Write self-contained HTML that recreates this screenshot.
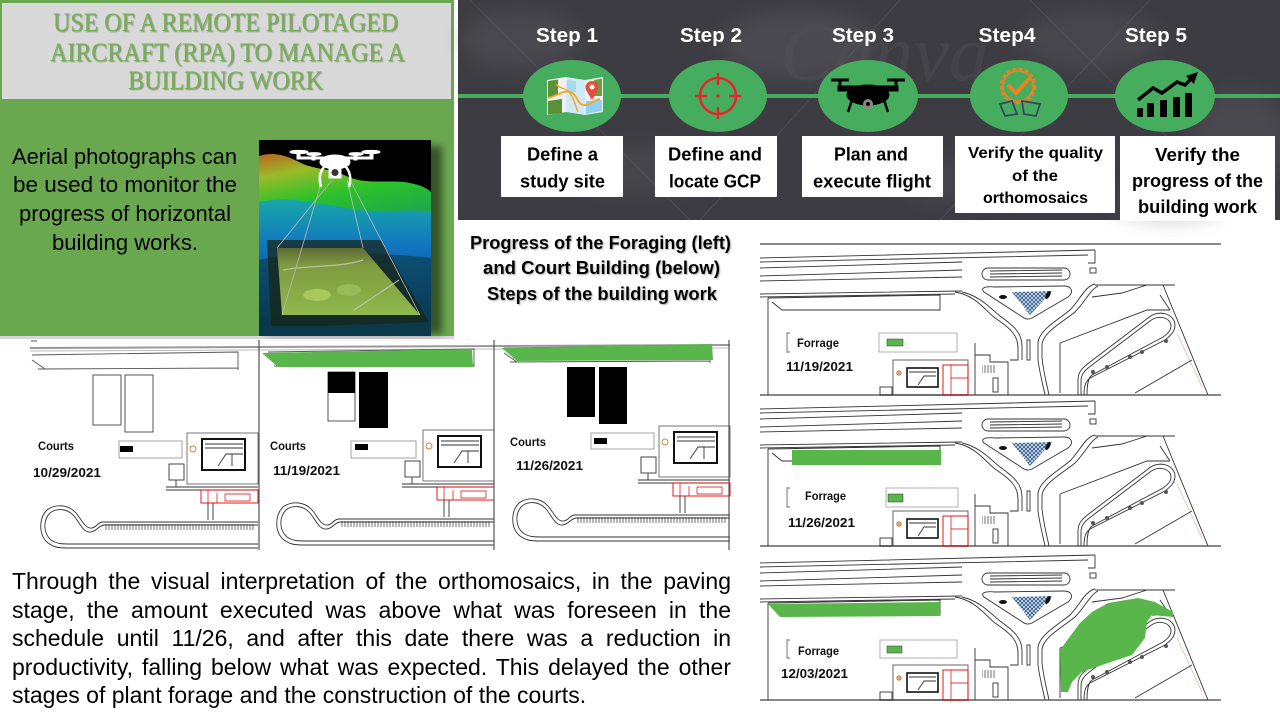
<!DOCTYPE html>
<html><head><meta charset="utf-8">
<style>
*{margin:0;padding:0;box-sizing:border-box}
html,body{width:1280px;height:720px;overflow:hidden;background:#fff}
body{position:relative;font-family:"Liberation Sans",Arial,sans-serif}
svg{position:absolute;left:0;top:0}
.para{position:absolute;left:12px;top:567px;width:719px;font-size:23px;line-height:28.5px;color:#000}
.para div{text-align:justify;text-align-last:justify;white-space:nowrap}
.para div.last{text-align:left;text-align-last:left}
</style></head><body>
<svg width="1280" height="720" viewBox="0 0 1280 720" xmlns="http://www.w3.org/2000/svg">
<defs>
 <pattern id="tk" width="3" height="7" patternUnits="userSpaceOnUse"><line x1="1" y1="0" x2="1" y2="7" stroke="#333" stroke-width="0.7"/></pattern>
 <pattern id="xh" width="4" height="4" patternUnits="userSpaceOnUse"><rect width="4" height="4" fill="#dde6f0"/><path d="M0,0 L4,4 M4,0 L0,4" stroke="#2f5a8c" stroke-width="0.9"/></pattern>
 <linearGradient id="terr1" x1="0" y1="0" x2="0.35" y2="1">
  <stop offset="0" stop-color="#b8641e"/><stop offset="0.22" stop-color="#9cba2a"/><stop offset="0.5" stop-color="#2cc22a"/><stop offset="1" stop-color="#169a5a"/>
 </linearGradient>
 <linearGradient id="terr2" x1="0" y1="0" x2="0" y2="1">
  <stop offset="0" stop-color="#18a8a8"/><stop offset="0.35" stop-color="#1274c0"/><stop offset="0.7" stop-color="#0a4c88"/><stop offset="1" stop-color="#07303c"/>
 </linearGradient>
 <linearGradient id="golf" x1="0" y1="0" x2="0" y2="1">
  <stop offset="0" stop-color="#5e6a34"/><stop offset="0.25" stop-color="#7f9a40"/><stop offset="1" stop-color="#8fb84c"/>
 </linearGradient>
 <filter id="blur4"><feGaussianBlur stdDeviation="4"/></filter>
 <filter id="blur10"><feGaussianBlur stdDeviation="10"/></filter>
 <filter id="tsh"><feDropShadow dx="1" dy="1" stdDeviation="0.6" flood-color="#444" flood-opacity="0.55"/></filter>
 <filter id="tsh2"><feDropShadow dx="1" dy="1" stdDeviation="0.8" flood-color="#777" flood-opacity="0.6"/></filter>

 <g id="courtbase" fill="none" stroke="#333" stroke-width="0.9">
  <path d="M32,355 L238,352 L238,370 M38,369 L238,368 M32,360 L45,369" stroke="#555"/>
  <rect x="187" y="433" width="71" height="51" stroke="#666"/>
  <rect x="202" y="439" width="43" height="31" stroke="#111" stroke-width="2"/>
  <path d="M205,444 L243,444 M205,448 L243,448 M218,466 L226,454 L243,454 M232,454 L232,466"/>
  <circle cx="193" cy="449" r="3" stroke="#d08040"/>
  <rect x="169" y="464" width="15" height="16"/>
  <path d="M176,480 L176,487 M166,487 L258,487 M166,490 L258,490"/>
  <rect x="201" y="490" width="57" height="13" stroke="#e00000"/>
  <path d="M208,490 L208,503 M217,493 L217,503 M225,494 L250,494 L250,501 L225,501 Z" stroke="#e00000" stroke-width="0.7"/>
  <path d="M208,503 L208,520 M213,503 L213,520"/>
  <path d="M258,522 L103,522 C98,522 97,527 92,528 C85,529 82,520 76,513 C68,504 55,504 47,510 C39,518 38,535 48,543 C55,548 60,548 70,548 L258,548"/>
  <path d="M258,525 L104,525 C98,526 97,531 91,532 C83,533 80,523 74,516 C67,508 56,508 50,513 C43,520 43,533 51,540 C57,544 62,544 72,544 L258,544"/>
  <rect x="105" y="524" width="150" height="6" fill="url(#tk)" stroke="none"/>
 </g>

 <g id="mapbase" fill="none" stroke="#333" stroke-width="0.9">
  <line x1="760" y1="395" x2="1221" y2="395" stroke="#888" stroke-width="2"/>
  <path d="M760,258 L1095,250 M760,262 L1088,255 M760,268 L962,262 M760,276 L962,270 M760,281 L962,277 M760,294 L962,291 M760,297 L955,294"/>
  <path d="M1095,250 L1095,263 L1088,263"/>
  <rect x="1090" y="268" width="6" height="5"/>
  <path d="M768,298 L940,295 L940,310 L782,310 L772,302 M768,298 L768,395"/>
  <path d="M955,292 C975,295 985,310 995,318 C1010,328 1018,335 1018,348 L1018,360 L1010,360"/>
  <path d="M962,292 C980,296 990,308 1000,316 C1014,326 1022,333 1022,346 L1022,360"/>
  <path d="M1095,284 C1085,286 1080,300 1070,310 C1055,322 1040,330 1038,342 L1038,360 C1040,375 1043,385 1045,395"/>
  <path d="M1098,286 C1090,290 1085,302 1075,312 C1060,324 1044,332 1042,344 L1042,358 C1044,375 1047,385 1049,395"/>
  <rect x="982" y="268" width="88" height="12" rx="6"/>
  <path d="M990,271 L1062,270 M990,274 L1062,273 M990,277 L1062,276"/>
  <path d="M984,292 C980,288 985,286 995,287 L1064,286 C1072,286 1074,292 1068,297 L1032,318 C1028,320 1025,319 1021,316 Z"/>
  <polygon points="1012,292 1052,291 1030,315" fill="url(#xh)" stroke="none"/>
  <ellipse cx="1003" cy="297" rx="4" ry="2" fill="#111" stroke="none"/>
  <ellipse cx="1048" cy="295" rx="2" ry="4.5" fill="#111" stroke="none" transform="rotate(30 1048 295)"/>
  <rect x="1027" y="340" width="3" height="20"/>
  <path d="M1095,285 L1175,285 M1163,285 L1208,395 M1060,343 L1060,393 M1060,343 L1147,310 L1170,310 M1092,297 L1122,293 L1147,285 M1170,310 L1160,295"/>
  <path d="M1078,395 L1078,380 C1078,372 1082,368 1090,362 L1148,318 C1160,308 1175,315 1175,325 C1175,332 1170,336 1165,340 L1090,378 C1086,381 1084,385 1084,395"/>
  <path d="M1081,395 L1081,381 C1081,374 1085,370 1092,365 L1150,321 C1159,314 1171,318 1171,326 C1171,331 1167,334 1163,337 L1092,375 C1088,378 1087,385 1087,395"/>
  <g fill="#555" stroke="none"><circle cx="1093" cy="372" r="2"/><circle cx="1107" cy="367" r="2"/><circle cx="1130" cy="357" r="2"/><circle cx="1142" cy="352" r="2"/><circle cx="1166" cy="341" r="2"/></g>
  <path d="M1177,333 L1202,387" stroke="#f0a0a0" stroke-width="0.6"/>
  <path d="M1135,393 L1192,360"/>
  <rect x="893" y="360" width="75" height="35" stroke="#555"/>
  <rect x="907" y="368" width="31" height="19" stroke="#111" stroke-width="1.6"/>
  <path d="M909,372 L936,372 M918,385 L924,376 L936,376"/>
  <rect x="943" y="365" width="25" height="30" stroke="#e00000"/>
  <path d="M951,365 L951,395 M951,378 L968,378" stroke="#e00000" stroke-width="0.7"/>
  <rect x="880" y="387" width="12" height="8"/>
  <circle cx="899" cy="373" r="2.2" stroke="#c87838" fill="#e0b080"/>
  <path d="M975,343 L975,395 M975,355 L990,355 L990,362 L1008,362 L1008,395"/>
  <rect x="982" y="365" width="13" height="8" fill="url(#tk)" stroke="none"/>
  <rect x="993" y="378" width="5" height="14"/>
 </g>
</defs>

<!-- LEFT GREEN PANEL -->
<rect x="0" y="0" width="454" height="336" fill="#6aa84f"/>
<rect x="0" y="336" width="454" height="3" fill="#d8d8d8"/>
<rect x="2" y="3" width="449" height="96" fill="#d9d9d9"/>
<g font-family="Liberation Serif, serif" font-size="26" fill="#76b152" text-anchor="middle" filter="url(#tsh)">
 <text x="225.5" y="31" textLength="345" lengthAdjust="spacingAndGlyphs">USE OF A REMOTE PILOTAGED</text>
 <text x="227.5" y="61" textLength="355" lengthAdjust="spacingAndGlyphs">AIRCRAFT (RPA) TO MANAGE A</text>
 <text x="225.5" y="89" textLength="195" lengthAdjust="spacingAndGlyphs">BUILDING WORK</text>
</g>
<g font-family="Liberation Sans, Arial, sans-serif" font-size="22" fill="#000" text-anchor="middle">
 <text x="124.5" y="164" textLength="225" lengthAdjust="spacingAndGlyphs">Aerial photographs can</text>
 <text x="125" y="192" textLength="224" lengthAdjust="spacingAndGlyphs">be used to monitor the</text>
 <text x="125" y="221" textLength="212" lengthAdjust="spacingAndGlyphs">progress of horizontal</text>
 <text x="125" y="250" textLength="146" lengthAdjust="spacingAndGlyphs">building works.</text>
</g>

<!-- photo -->
<rect x="266" y="146" width="176" height="188" fill="#000" opacity="0.5" filter="url(#blur4)"/>
<rect x="454" y="0" width="4" height="340" fill="#fff"/>
<g transform="translate(259,140)">
 <rect width="172" height="196" fill="#000"/>
 <path d="M0,16 C12,12 25,14 40,22 C55,30 70,28 85,35 C105,45 125,40 145,42 C160,44 168,48 172,52 L172,110 L0,110 Z" fill="url(#terr1)"/>
 <path d="M0,62 C30,55 60,64 100,70 C130,74 150,68 172,72 L172,196 L0,196 Z" fill="url(#terr2)"/>
 <path d="M0,120 C40,110 120,112 172,118 L172,196 L0,196 Z" fill="#0c3a48" opacity="0.6"/>
 <polygon points="8,100 122,100 170,182 12,188" fill="#1a2412" opacity="0.7"/>
 <polygon points="18,108 104,108 161,175 23,175" fill="url(#golf)"/>
 <path d="M24,130 C50,125 80,128 104,120 M95,170 C110,160 125,150 140,140" stroke="#c8c8b8" stroke-width="1.2" fill="none" opacity="0.8"/>
 <ellipse cx="58" cy="155" rx="14" ry="6" fill="#a6c85c"/>
 <ellipse cx="90" cy="150" rx="12" ry="6" fill="#9cc058" opacity="0.8"/>
 <g stroke="#b8b8b8" stroke-width="0.8" fill="none">
  <line x1="63" y1="40" x2="23" y2="175"/><line x1="73" y1="40" x2="18" y2="108"/>
  <line x1="88" y1="40" x2="104" y2="108"/><line x1="91" y1="40" x2="161" y2="175"/>
 </g>
 <rect x="0" y="186" width="172" height="10" fill="#0a3a4a"/>
 <g fill="#fff" stroke="#fff">
  <line x1="38" y1="18" x2="114" y2="18" stroke-width="3"/>
  <ellipse cx="40" cy="12" rx="9" ry="1.6"/><ellipse cx="112" cy="12" rx="9" ry="1.6"/>
  <ellipse cx="55" cy="14" rx="7" ry="1.4"/><ellipse cx="97" cy="14" rx="7" ry="1.4"/>
  <rect x="38" y="12" width="3" height="7"/><rect x="111" y="12" width="3" height="7"/>
  <rect x="53" y="14" width="3" height="6"/><rect x="95" y="14" width="3" height="6"/>
  <ellipse cx="76" cy="22" rx="15" ry="7"/>
  <path d="M66,26 C60,32 60,40 62,47 M86,26 C92,32 92,40 90,47" fill="none" stroke-width="2.5"/>
  <rect x="70" y="27" width="12" height="11"/>
 </g>
 <circle cx="76" cy="32.5" r="3.5" fill="#333"/>
</g>

<!-- BANNER -->
<rect x="458" y="0" width="822" height="220" fill="#3d3c43"/>
<g filter="url(#blur10)" opacity="0.3">
 <ellipse cx="520" cy="40" rx="60" ry="30" fill="#66656b"/>
 <ellipse cx="640" cy="170" rx="70" ry="25" fill="#5d5c62"/>
 <ellipse cx="800" cy="45" rx="80" ry="35" fill="#6a696f"/>
 <ellipse cx="960" cy="180" rx="60" ry="25" fill="#5a595f"/>
 <ellipse cx="1090" cy="40" rx="70" ry="30" fill="#5f5e64"/>
 <ellipse cx="1240" cy="140" rx="50" ry="50" fill="#66656b"/>
 <ellipse cx="1170" cy="200" rx="60" ry="20" fill="#55545a"/>
</g>
<g stroke="#8a8990" stroke-width="0.6" opacity="0.3">
 <line x1="470" y1="0" x2="690" y2="220"/><line x1="700" y1="220" x2="900" y2="0"/>
 <line x1="940" y1="220" x2="1150" y2="0"/><line x1="1030" y1="0" x2="1250" y2="220"/>
</g>
<text x="780" y="80" font-family="Liberation Serif, serif" font-style="italic" font-size="80" fill="#55545b" opacity="0.35">Canva</text>
<rect x="458" y="94" width="822" height="4" fill="#45ac5c"/>
<g fill="#46ad5f">
 <ellipse cx="572" cy="96" rx="49" ry="36"/>
 <ellipse cx="718" cy="96" rx="49" ry="36"/>
 <ellipse cx="868" cy="96" rx="50" ry="36"/>
 <ellipse cx="1019" cy="96" rx="49" ry="36"/>
 <ellipse cx="1165" cy="96" rx="50" ry="36"/>
</g>
<!-- icon 1 map -->
<g>
 <polygon points="547,80 566,77 566,112 547,115" fill="#eef2ee"/>
 <polygon points="566,77 585,80 585,115 566,112" fill="#cfe9f6"/>
 <polygon points="585,80 603,77 603,112 585,115" fill="#eef2ee"/>
 <polygon points="548,81 558,79.5 558,95 548,97" fill="#5b8f3b"/>
 <polygon points="548,101 562,99 562,113 548,114.5" fill="#5b8f3b"/>
 <polygon points="594,80 602,78.5 602,96 594,96" fill="#6a9f3f"/>
 <polygon points="586,101 602,100 602,111 586,114" fill="#8fd0f0"/>
 <polygon points="567,80 576,81 576,92 567,92" fill="#a6d8f0"/>
 <path d="M548,98 C558,96 562,90 570,92 C578,94 576,104 584,105 C590,106 592,100 600,99" stroke="#f5a623" stroke-width="1.8" fill="none"/>
 <path d="M556,84 C560,90 566,86 572,96 L578,112" stroke="#f5a623" stroke-width="1.4" fill="none"/>
 <path d="M592,100 L586,90 A6.5,6.5 0 1 1 598,90 Z" fill="#e84c3d"/>
 <circle cx="592" cy="87" r="2.5" fill="#fff"/>
</g>
<!-- icon 2 target -->
<g stroke="#e3262e" stroke-width="2.5" fill="none">
 <circle cx="718" cy="96" r="18"/>
 <path d="M718,73 L718,85 M718,107 L718,119 M695,96 L707,96 M729,96 L741,96"/>
</g>
<circle cx="718" cy="96" r="1.8" fill="#e3262e"/>
<!-- icon 3 drone -->
<g fill="#000" stroke="#000">
 <path d="M831,80 L849,80 M887,80 L905,80" stroke-width="3"/>
 <path d="M840,80 L840,90 M896,80 L896,90" stroke-width="3"/>
 <rect x="838" y="86" width="60" height="5"/>
 <ellipse cx="868" cy="95" rx="21" ry="10"/>
 <path d="M852,100 L848,112 M884,100 L888,112" stroke-width="2.5"/>
</g>
<circle cx="868" cy="104" r="5" fill="#888"/><circle cx="868" cy="104" r="2" fill="#000"/>
<!-- icon 4 badge -->
<g fill="none">
 <circle cx="1018" cy="86" r="17" stroke="#f07f22" stroke-width="2.5" stroke-dasharray="4 2.2"/>
 <circle cx="1018" cy="86" r="15" stroke="#f07f22" stroke-width="1.5"/>
 <path d="M1009,86 L1016,93 L1029,79" stroke="#f07f22" stroke-width="4" stroke-linecap="round" stroke-linejoin="round"/>
 <path d="M1000,104 L1012,101 L1017,114 L1005,116 Z M1022,101 L1040,104 L1036,116 L1024,114 Z" stroke="#34495e" stroke-width="1.8"/>
</g>
<!-- icon 5 chart -->
<g fill="#000">
 <rect x="1137" y="108" width="6" height="9"/>
 <rect x="1147" y="103" width="7" height="14"/>
 <rect x="1160" y="100" width="7" height="17"/>
 <rect x="1173" y="97" width="7" height="20"/>
 <rect x="1185" y="93" width="7" height="24"/>
 <path d="M1138,100 L1153,88 L1162,93 L1177,82 L1185,85 L1192,78" stroke="#000" stroke-width="3.5" fill="none"/>
 <polygon points="1186,76 1198,72 1194,84"/>
</g>
<!-- step titles -->
<g font-family="Liberation Sans, Arial, sans-serif" font-weight="bold" font-size="20" fill="#fff" text-anchor="middle">
 <text x="567" y="42" textLength="62" lengthAdjust="spacingAndGlyphs">Step 1</text>
 <text x="711" y="42" textLength="62" lengthAdjust="spacingAndGlyphs">Step 2</text>
 <text x="863" y="42" textLength="62" lengthAdjust="spacingAndGlyphs">Step 3</text>
 <text x="1007" y="42" textLength="57" lengthAdjust="spacingAndGlyphs">Step4</text>
 <text x="1156" y="42" textLength="62" lengthAdjust="spacingAndGlyphs">Step 5</text>
</g>
<!-- white boxes -->
<g fill="#fff">
 <rect x="501" y="136" width="122" height="61"/>
 <rect x="655" y="136" width="122" height="61"/>
 <rect x="802" y="136" width="141" height="61"/>
 <rect x="955" y="136" width="160" height="77"/>
 <rect x="1120" y="136" width="155" height="85"/>
</g>
<g font-family="Liberation Sans, Arial, sans-serif" font-weight="bold" font-size="18" fill="#000" text-anchor="middle">
 <text x="562.5" y="160.5" textLength="71" lengthAdjust="spacingAndGlyphs">Define a</text>
 <text x="562.5" y="187.5" textLength="85" lengthAdjust="spacingAndGlyphs">study site</text>
 <text x="715" y="160.5" textLength="94" lengthAdjust="spacingAndGlyphs">Define and</text>
 <text x="715" y="187.5" textLength="92" lengthAdjust="spacingAndGlyphs">locate GCP</text>
 <text x="871" y="160.5" textLength="74" lengthAdjust="spacingAndGlyphs">Plan and</text>
 <text x="872" y="187.5" textLength="118" lengthAdjust="spacingAndGlyphs">execute flight</text>
 <text x="1035.5" y="158" font-size="16" textLength="135" lengthAdjust="spacingAndGlyphs">Verify the quality</text>
 <text x="1035" y="181" font-size="16" textLength="46" lengthAdjust="spacingAndGlyphs">of the</text>
 <text x="1035.5" y="203" font-size="16" textLength="105" lengthAdjust="spacingAndGlyphs">orthomosaics</text>
 <text x="1197.5" y="161" textLength="85" lengthAdjust="spacingAndGlyphs">Verify the</text>
 <text x="1197.5" y="187" textLength="131" lengthAdjust="spacingAndGlyphs">progress of the</text>
 <text x="1197.5" y="213" textLength="119" lengthAdjust="spacingAndGlyphs">building work</text>
</g>

<!-- center caption -->
<g font-family="Liberation Sans, Arial, sans-serif" font-weight="bold" font-size="18" fill="#000" text-anchor="middle" filter="url(#tsh2)">
 <text x="600.5" y="249" textLength="261" lengthAdjust="spacingAndGlyphs">Progress of the Foraging (left)</text>
 <text x="601.5" y="274" textLength="237" lengthAdjust="spacingAndGlyphs">and Court Building (below)</text>
 <text x="602" y="300" textLength="230" lengthAdjust="spacingAndGlyphs">Steps of the building work</text>
</g>

<!-- COURTS PANELS -->
<line x1="30" y1="348" x2="730" y2="345" stroke="#999" stroke-width="2"/>
<line x1="30" y1="351" x2="730" y2="348" stroke="#bbb" stroke-width="1"/>
<line x1="31" y1="341" x2="37" y2="341" stroke="#555"/>
<use href="#courtbase"/>
<use href="#courtbase" transform="translate(236,-3)"/>
<use href="#courtbase" transform="translate(472,-7)"/>
<g fill="none" stroke="#444" stroke-width="0.9">
 <rect x="93" y="375" width="28" height="50"/>
 <rect x="125" y="375" width="28" height="57"/>
 <rect x="119" y="441" width="63" height="17" stroke="#999"/>
 <rect x="328" y="372" width="27" height="49"/>
 <rect x="351" y="441" width="65" height="17" stroke="#999"/>
 <rect x="591" y="433" width="63" height="16" stroke="#999"/>
</g>
<g fill="#000">
 <rect x="120" y="446" width="13" height="6"/>
 <rect x="328" y="372" width="27" height="21"/>
 <rect x="359" y="372" width="29" height="56"/>
 <rect x="355" y="444" width="13" height="6"/>
 <rect x="567" y="367" width="28" height="50"/>
 <rect x="599" y="367" width="28" height="57"/>
 <rect x="594" y="438" width="13" height="6"/>
</g>
<polygon points="262,353 472,349 473,367 278,367" fill="#58b64a"/>
<polygon points="502,348 712,344 713,360 517,361" fill="#58b64a"/>
<g stroke="#555" stroke-width="1.2">
 <line x1="259" y1="340" x2="259" y2="550"/>
 <line x1="494" y1="340" x2="494" y2="550"/>
 <line x1="729" y1="340" x2="729" y2="550"/>
</g>
<g font-family="Liberation Sans, Arial, sans-serif" font-weight="bold" fill="#111">
 <text x="38" y="450" font-size="11.5" textLength="36" lengthAdjust="spacingAndGlyphs">Courts</text>
 <text x="33" y="477" font-size="13" textLength="68" lengthAdjust="spacingAndGlyphs">10/29/2021</text>
 <text x="270" y="450" font-size="11.5" textLength="36" lengthAdjust="spacingAndGlyphs">Courts</text>
 <text x="273" y="475" font-size="13" textLength="67" lengthAdjust="spacingAndGlyphs">11/19/2021</text>
 <text x="510" y="446" font-size="11.5" textLength="36" lengthAdjust="spacingAndGlyphs">Courts</text>
 <text x="516" y="470" font-size="13" textLength="67" lengthAdjust="spacingAndGlyphs">11/26/2021</text>
</g>

<!-- FORAGE MAPS -->
<line x1="760" y1="244" x2="1221" y2="244" stroke="#888" stroke-width="2"/>
<use href="#mapbase"/>
<use href="#mapbase" transform="translate(0,151)"/>
<use href="#mapbase" transform="translate(0,305)"/>
<rect x="792" y="450" width="149" height="15" fill="#58b64a"/>
<polygon points="768,604 940,602 940,616 780,617" fill="#58b64a"/>
<path d="M1060,650 L1080,623 L1092,612 L1108,603 L1138,598 L1155,602 L1173,612 L1173,617 L1152,615 L1147,622 L1145,638 L1132,655 L1102,665 L1082,672 L1072,682 L1068,692 L1061,692 Z" fill="#58b64a"/>
<g fill="none" stroke="#666" stroke-width="0.9">
 <path d="M790,333 L787,333 L787,352 L790,352"/><rect x="879" y="333" width="78" height="19" stroke="#aaa"/>
 <path d="M790,488 L787,488 L787,507 L790,507"/><rect x="886" y="488" width="72" height="19" stroke="#aaa"/>
 <path d="M790,640 L787,640 L787,658 L790,658"/><rect x="880" y="640" width="77" height="18" stroke="#aaa"/>
</g>
<g fill="#58b64a" stroke="#333" stroke-width="0.5">
 <rect x="887" y="339" width="16" height="7"/>
 <rect x="888" y="494" width="15" height="8"/>
 <rect x="887" y="646" width="15" height="7"/>
</g>
<g font-family="Liberation Sans, Arial, sans-serif" font-weight="bold" fill="#111">
 <text x="797" y="347" font-size="11.5" textLength="42" lengthAdjust="spacingAndGlyphs">Forrage</text>
 <text x="786" y="371" font-size="13" textLength="67" lengthAdjust="spacingAndGlyphs">11/19/2021</text>
 <text x="805" y="500" font-size="11.5" textLength="41" lengthAdjust="spacingAndGlyphs">Forrage</text>
 <text x="788" y="527" font-size="13" textLength="67" lengthAdjust="spacingAndGlyphs">11/26/2021</text>
 <text x="798" y="655" font-size="11.5" textLength="41" lengthAdjust="spacingAndGlyphs">Forrage</text>
 <text x="781" y="678" font-size="13" textLength="67" lengthAdjust="spacingAndGlyphs">12/03/2021</text>
</g>
</svg>

<div class="para">
 <div>Through the visual interpretation of the orthomosaics, in the paving</div>
 <div>stage, the amount executed was above what was foreseen in the</div>
 <div>schedule until 11/26, and after this date there was a reduction in</div>
 <div>productivity, falling below what was expected. This delayed the other</div>
 <div class="last">stages of plant forage and the construction of the courts.</div>
</div>
</body></html>
